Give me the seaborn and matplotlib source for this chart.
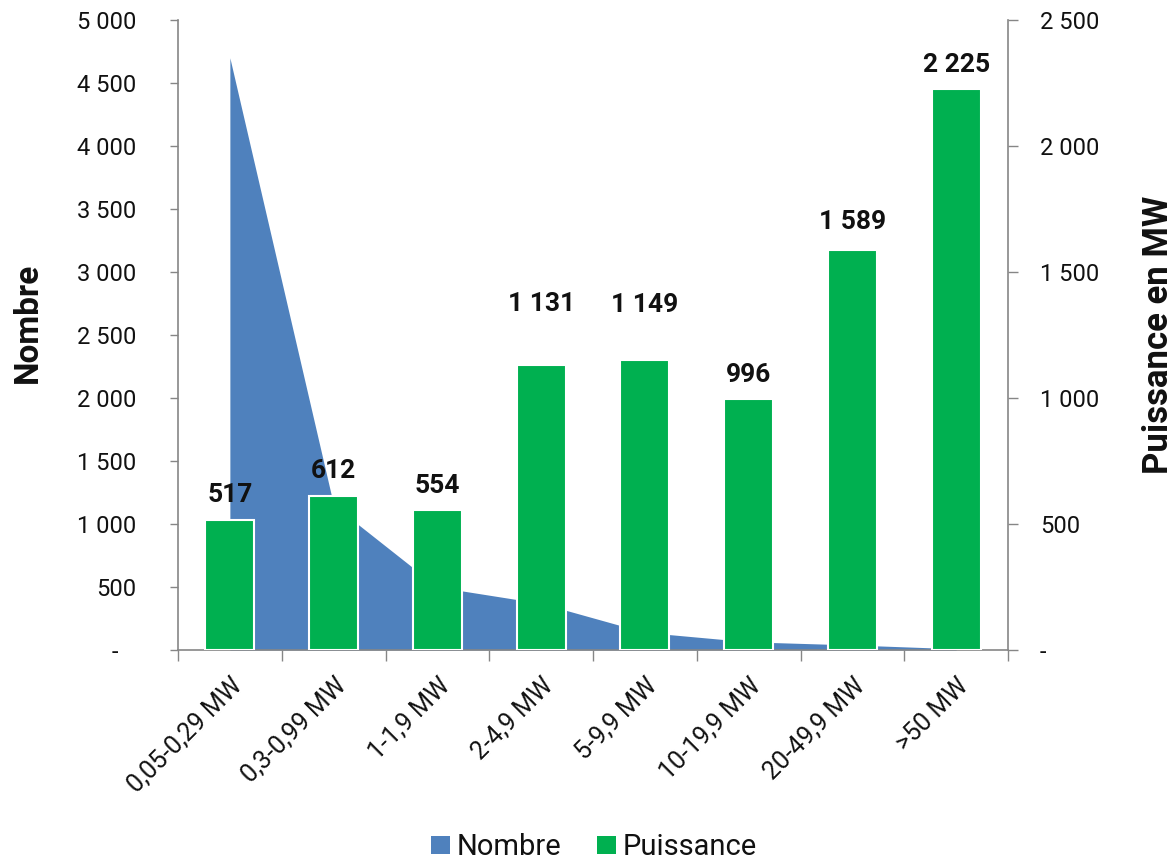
import numpy as np
import pandas as pd
import matplotlib
matplotlib.use("Agg")
import matplotlib.pyplot as plt
from matplotlib.ticker import FuncFormatter, FixedLocator, MultipleLocator
from matplotlib.patches import Patch
import seaborn as sns

categories = ["0,05-0,29 MW", "0,3-0,99 MW", "1-1,9 MW", "2-4,9 MW",
              "5-9,9 MW", "10-19,9 MW", "20-49,9 MW", ">50 MW"]
nombre = [4700, 1150, 500, 370, 140, 65, 40, 10]
puissance = [517, 612, 554, 1131, 1149, 996, 1589, 2225]

# label offsets above bars (points) - styling only
label_pad = [9, 9, 9, 35, 31, 9, 11, 9]

BLUE = "#4F81BD"
GREEN = "#00B050"
GREY = "#868686"
TXT = "#111111"

sns.set_theme(style="white")
plt.rcParams["font.family"] = ["Roboto", "DejaVu Sans"]

fig = plt.figure(figsize=(11.76, 8.63), dpi=100)
ax = fig.add_axes([178/1176, (863-650)/863, (1008-178)/1176, (650-20)/863])
ax2 = ax.twinx()

df = pd.DataFrame({"cat": categories, "nombre": nombre, "puissance": puissance})

# green bars (Puissance) on the right axis
sns.barplot(data=df, x="cat", y="puissance", ax=ax2, color=GREEN,
            width=0.47, edgecolor="white", linewidth=1.5, saturation=1)
for patch, v, p in zip(ax2.containers[0], puissance, label_pad):
    ax2.annotate(f"{v:,}".replace(",", " "),
                 xy=(patch.get_x() + patch.get_width() / 2, patch.get_height()),
                 xytext=(0, p), textcoords="offset points",
                 ha="center", va="bottom", fontsize=19, fontweight="bold", color=TXT)

# blue area (Nombre) on the left axis
xpos = np.arange(len(categories))
ax.fill_between(xpos, df["nombre"], 0, color=BLUE, lw=0, zorder=2)

# limits
ax.set_xlim(-0.5, len(categories) - 0.5)
ax.set_ylim(0, 5000)
ax2.set_ylim(0, 2500)

def fmt_left(v, pos):
    if abs(v) < 1e-9:
        return "-   "
    return f"{int(round(v)):,}".replace(",", " ")

def fmt_right(v, pos):
    if abs(v) < 1e-9:
        return "-"
    return f"{int(round(v)):,}".replace(",", " ")

ax.yaxis.set_major_locator(MultipleLocator(500))
ax.yaxis.set_major_formatter(FuncFormatter(fmt_left))
ax.yaxis.set_minor_locator(FixedLocator([1000, 2000, 3000, 4000]))
ax2.yaxis.set_major_locator(MultipleLocator(500))
ax2.yaxis.set_major_formatter(FuncFormatter(fmt_right))

# gridlines (behind the area)
ax.set_axisbelow(True)
ax.grid(False)
ax2.grid(False)
ax.yaxis.grid(True, which="minor", color=GREY, lw=1.3)
ax.tick_params(axis="y", which="minor", length=0)

# x ticks: labels at centres, tick marks at boundaries
ax.set_xticks(xpos)
ax.set_xticklabels(categories)
ax.xaxis.set_minor_locator(FixedLocator(np.arange(-0.5, len(categories), 1.0)))
ax.tick_params(axis="x", which="major", length=0, pad=17, labelsize=18, labelcolor=TXT,
               bottom=True, labelbottom=True)
ax.tick_params(axis="x", which="minor", length=8, width=1, color=GREY, direction="out", bottom=True)
for lab in ax.get_xticklabels():
    lab.set_rotation(45)
    lab.set_ha("right")
    lab.set_va("top")
    lab.set_rotation_mode("anchor")
ax.xaxis.set_visible(True)
ax2.set_xlabel("")

ax.tick_params(axis="y", which="major", length=6, width=1, color=GREY, direction="out",
               left=True, pad=24, labelsize=17, labelcolor=TXT)
ax2.tick_params(axis="y", which="major", length=7, width=1, color=GREY, direction="out",
                right=True, pad=16, labelsize=17, labelcolor=TXT)

for a in (ax, ax2):
    for s in a.spines.values():
        s.set_visible(False)
ax.spines["left"].set_visible(True)
ax.spines["left"].set_color(GREY)
ax.spines["left"].set_linewidth(1.2)
ax.spines["bottom"].set_visible(True)
ax.spines["bottom"].set_color(GREY)
ax.spines["bottom"].set_linewidth(1.2)
ax2.spines["right"].set_visible(True)
ax2.spines["right"].set_color(GREY)
ax2.spines["right"].set_linewidth(1.2)

ax.set_xlabel("")
ax.set_ylabel("Nombre", fontsize=24, fontweight="bold", color=TXT)
ax.yaxis.set_label_coords(-0.162, 0.52)
ax2.set_ylabel("Puissance en MW", fontsize=25, fontweight="bold", color=TXT)
ax2.yaxis.set_label_coords(1.161, 0.5)

ax.set_zorder(1)
ax2.set_zorder(2)
ax.patch.set_visible(True)
ax2.patch.set_visible(False)

handles = [Patch(facecolor=BLUE, edgecolor="none", label="Nombre"),
           Patch(facecolor=GREEN, edgecolor="none", label="Puissance")]
fig.legend(handles=handles, loc="center", bbox_to_anchor=(0.505, 0.018), ncol=2,
           frameon=False, fontsize=21, handlelength=0.65, handleheight=0.6,
           handletextpad=0.25, columnspacing=1.2, labelcolor=TXT)

fig.savefig("out.png", dpi=100)
